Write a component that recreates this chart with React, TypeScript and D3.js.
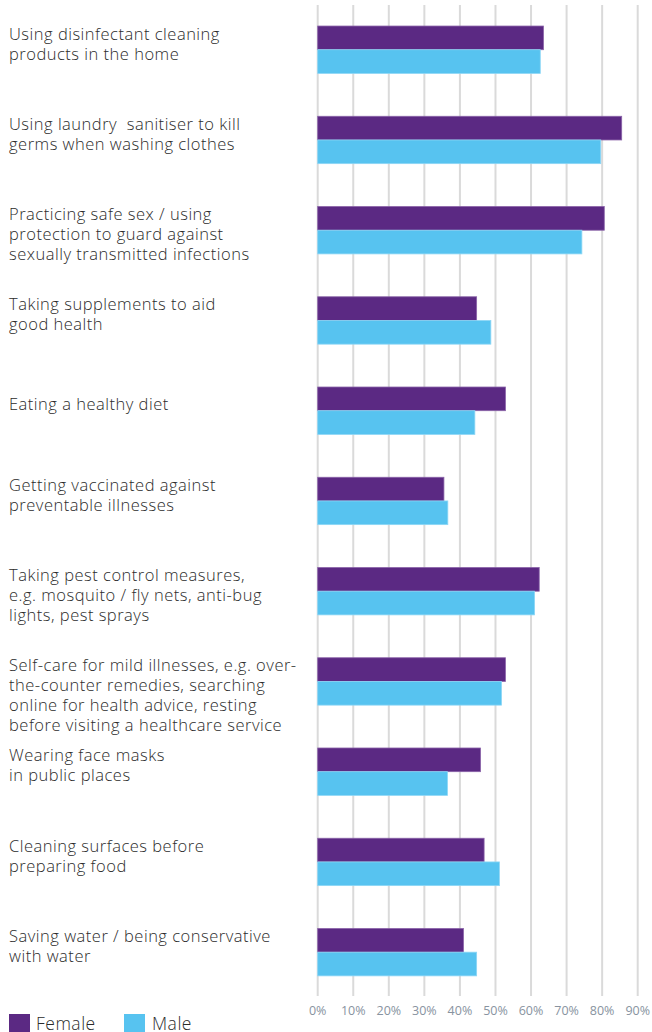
import React from "react";
import * as d3 from "d3";

const categories: string[][] = [
  ["Using disinfectant cleaning", "products in the home"],
  ["Using laundry  sanitiser to kill", "germs when washing clothes"],
  ["Practicing safe sex / using", "protection to guard against", "sexually transmitted infections"],
  ["Taking supplements to aid", "good health"],
  ["Eating a healthy diet"],
  ["Getting vaccinated against", "preventable illnesses"],
  ["Taking pest control measures,", "e.g. mosquito / fly nets, anti-bug", "lights, pest sprays"],
  ["Self-care for mild illnesses, e.g. over-", "the-counter remedies, searching", "online for health advice, resting", "before visiting a healthcare service"],
  ["Wearing face masks", "in public places"],
  ["Cleaning surfaces before", "preparing food"],
  ["Saving water / being conservative", "with water"],
];

const female: number[] = [63.5, 85.5, 80.6, 44.7, 52.8, 35.5, 62.3, 52.8, 45.8, 46.8, 41.0];
const male: number[] = [62.6, 79.6, 74.3, 48.7, 44.2, 36.6, 61.0, 51.7, 36.5, 51.1, 44.7];
const ticks: number[] = [0, 10, 20, 30, 40, 50, 60, 70, 80, 90];
const seriesNames = ["Female", "Male"];

const W = 652;
const H = 1032;
const FEMALE = "#5b2983";
const MALE = "#57c3f0";
const FONT = "'Open Sans', 'Noto Sans', sans-serif";

export default function App() {
  const keys = categories.map((_, i) => String(i));
  const x = d3.scaleLinear().domain([0, 90]).range([317.7, 637.7]);
  const y = d3
    .scaleBand<string>()
    .domain(keys)
    .range([4.6, 997.3])
    .paddingInner(0.475)
    .paddingOuter(0.2375);
  const sub = d3.scaleBand<string>().domain(seriesNames).range([0, y.bandwidth()]);

  return (
    <svg
      width={W}
      height={H}
      style={{ position: "absolute", left: 0, top: 0, background: "#fff" }}
      fontFamily={FONT}
    >
      {ticks.map((t) => (
        <g key={t}>
          <line x1={x(t)} x2={x(t)} y1={5} y2={996} stroke="#dadada" strokeWidth={2} />
          <text
            x={x(t)}
            y={1010.5}
            textAnchor="middle"
            dominantBaseline="central"
            fontSize={12.5}
            fill="#8893a0"
          >
            {t}%
          </text>
        </g>
      ))}
      {keys.map((k, i) => {
        const top = y(k)!;
        return (
          <g key={k}>
            <rect
              x={x(0)}
              y={top + sub("Female")!}
              width={x(female[i]) - x(0)}
              height={sub.bandwidth()}
              fill={FEMALE}
              stroke="#8a63a8"
              strokeWidth={0.8}
            />
            <rect
              x={x(0)}
              y={top + sub("Male")!}
              width={x(male[i]) - x(0)}
              height={sub.bandwidth()}
              fill={MALE}
              stroke="#8dd6f5"
              strokeWidth={0.8}
            />
          </g>
        );
      })}
      {categories.map((lines, i) => {
        const top = y(keys[i])!;
        const center = top + y.bandwidth() / 2;
        const first = Math.max(center - 7.5 - (lines.length - 1) * 10, top + 7);
        return (
          <text
            key={i}
            fontSize={16.5}
            letterSpacing={0.5}
            fill="#2b2b2b"
            fontWeight={300}
            style={{ whiteSpace: "pre" }}
          >
            {lines.map((l, j) => (
              <tspan key={j} x={9} y={first + j * 20} dominantBaseline="central">
                {l}
              </tspan>
            ))}
          </text>
        );
      })}
      <rect x={9} y={1014} width={21} height={20} fill={FEMALE} />
      <text x={36} y={1029.5} fontSize={17.5} letterSpacing={0.5} fill="#2b2b2b" fontWeight={300}>
        Female
      </text>
      <rect x={124} y={1014} width={21} height={20} fill={MALE} />
      <text x={152} y={1029.5} fontSize={17.5} letterSpacing={0.5} fill="#2b2b2b" fontWeight={300}>
        Male
      </text>
    </svg>
  );
}
